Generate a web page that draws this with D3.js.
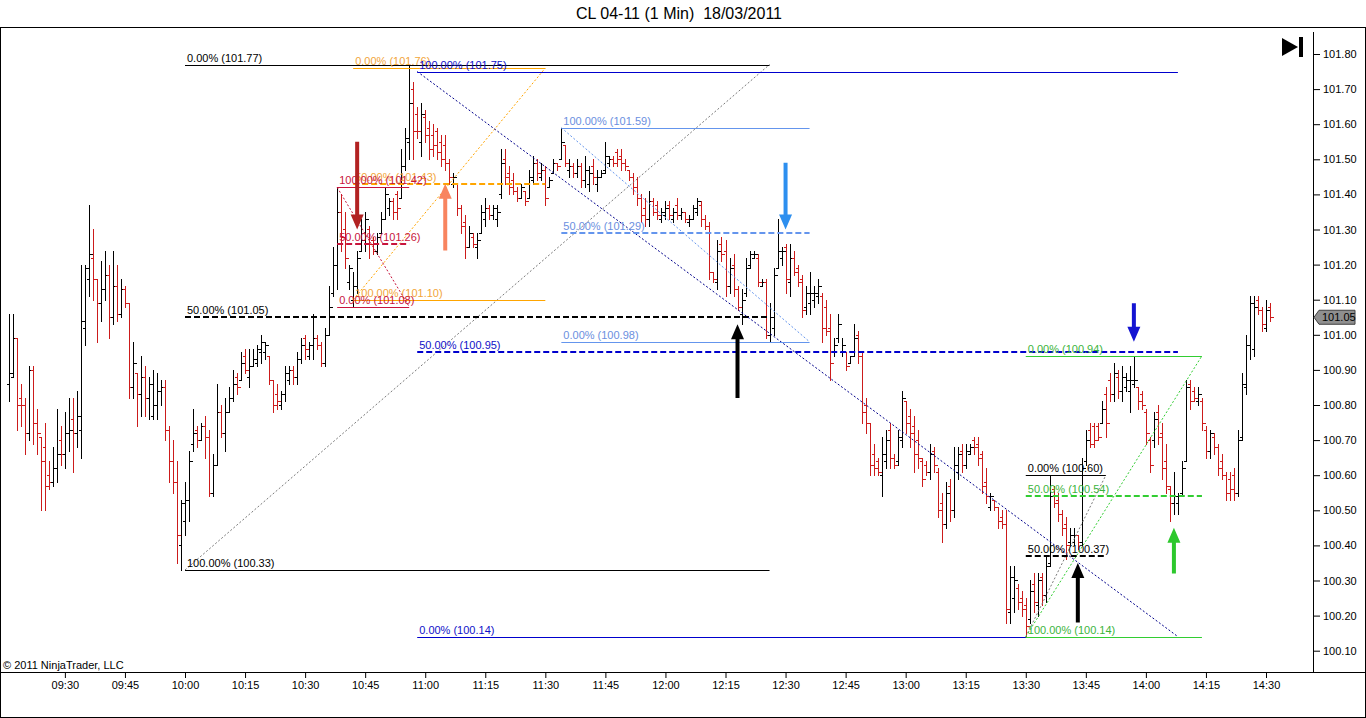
<!DOCTYPE html>
<html>
<head>
<meta charset="utf-8">
<script src="https://cdn.jsdelivr.net/npm/d3@7"></script>
<style>
  body { margin: 0; background: #fff; }
  svg { display: block; font-family: Arial, "Liberation Sans", sans-serif; }
</style>
</head>
<body>
<svg id="chart" width="1366" height="718"></svg>
<script>
const title = 'CL 04-11 (1 Min)  18/03/2011';
const copyright = '\u00a9 2011 NinjaTrader, LLC';

// one bar per minute from firstBarTime: [open, high, low, close]
const firstBarTime = '09:16';
const bars = [
  [100.86,101.06,100.81,100.89],[100.88,101.06,100.88,100.99],[100.99,100.99,100.73,100.80],[100.82,100.86,100.74,100.80],[100.80,100.82,100.66,100.72],[100.72,100.91,100.70,100.90],[100.90,100.91,100.69,100.75],[100.75,100.79,100.66,100.72],[100.71,100.71,100.50,100.64],[100.68,100.75,100.50,100.57],
  [100.60,100.64,100.56,100.58],[100.58,100.68,100.57,100.62],[100.62,100.79,100.58,100.66],[100.70,100.74,100.63,100.66],[100.66,100.78,100.62,100.72],[100.72,100.82,100.67,100.73],[100.76,100.82,100.61,100.72],[100.72,100.84,100.68,100.77],[100.73,101.20,100.65,101.04],[101.02,101.20,100.97,101.19],
  [101.16,101.37,101.11,101.23],[101.22,101.30,101.10,101.16],[101.16,101.16,100.98,101.09],[101.09,101.21,101.04,101.13],[101.13,101.24,101.10,101.17],[101.17,101.20,100.99,101.05],[101.05,101.24,101.03,101.14],[101.14,101.20,101.04,101.06],[101.06,101.16,101.05,101.13],[101.13,101.14,101.08,101.09],
  [101.09,101.09,100.82,100.85],[100.85,100.98,100.82,100.92],[100.89,100.89,100.74,100.83],[100.83,100.94,100.77,100.88],[100.88,100.91,100.77,100.82],[100.82,100.88,100.76,100.86],[100.77,100.90,100.76,100.80],[100.80,100.89,100.76,100.84],[100.84,100.87,100.80,100.85],[100.85,100.87,100.70,100.73],
  [100.73,100.74,100.58,100.64],[100.64,100.70,100.55,100.58],[100.58,100.64,100.35,100.43],[100.40,100.53,100.33,100.52],[100.47,100.58,100.43,100.53],[100.53,100.67,100.47,100.64],[100.69,100.79,100.67,100.72],[100.73,100.74,100.68,100.70],[100.70,100.75,100.70,100.74],[100.74,100.77,100.65,100.71],
  [100.71,100.73,100.54,100.55],[100.55,100.66,100.54,100.63],[100.63,100.86,100.63,100.78],[100.78,100.80,100.71,100.72],[100.72,100.82,100.67,100.78],[100.78,100.85,100.78,100.82],[100.82,100.90,100.81,100.86],[100.88,100.89,100.83,100.85],[100.87,100.95,100.87,100.92],[100.94,100.96,100.89,100.90],
  [100.88,100.96,100.85,100.91],[100.91,100.96,100.91,100.93],[100.92,100.97,100.91,100.96],[100.95,101.00,100.92,100.98],[100.95,100.98,100.93,100.97],[100.94,100.94,100.86,100.87],[100.87,100.87,100.78,100.80],[100.83,100.86,100.79,100.81],[100.80,100.84,100.79,100.83],[100.83,100.91,100.81,100.89],
  [100.87,100.91,100.86,100.90],[100.90,100.91,100.86,100.88],[100.88,100.95,100.86,100.93],[100.93,100.99,100.92,100.97],[100.99,101.00,100.93,100.96],[100.94,100.98,100.93,100.97],[100.97,101.06,100.93,100.99],[100.99,101.00,100.96,100.97],[100.97,100.98,100.91,100.92],[100.92,101.02,100.91,101.00],
  [101.00,101.14,101.00,101.08],[101.12,101.25,101.11,101.20],[101.20,101.42,101.13,101.35],[101.35,101.40,101.24,101.28],[101.30,101.35,101.19,101.22],[101.15,101.20,101.13,101.19],[101.10,101.18,101.08,101.14],[101.14,101.24,101.12,101.22],[101.24,101.33,101.24,101.27],[101.27,101.35,101.24,101.33],
  [101.30,101.31,101.22,101.26],[101.27,101.28,101.23,101.24],[101.24,101.29,101.23,101.28],[101.29,101.35,101.29,101.33],[101.33,101.42,101.33,101.40],[101.36,101.39,101.34,101.38],[101.38,101.39,101.33,101.35],[101.40,101.41,101.33,101.36],[101.39,101.53,101.39,101.48],[101.48,101.59,101.47,101.56],
  [101.55,101.77,101.50,101.66],[101.70,101.72,101.50,101.58],[101.63,101.65,101.56,101.58],[101.55,101.66,101.51,101.63],[101.62,101.64,101.55,101.57],[101.59,101.61,101.50,101.53],[101.57,101.60,101.51,101.54],[101.58,101.59,101.50,101.52],[101.55,101.57,101.48,101.50],[101.54,101.57,101.47,101.49],
  [101.49,101.50,101.43,101.45],[101.43,101.46,101.42,101.45],[101.43,101.43,101.34,101.36],[101.36,101.37,101.29,101.31],[101.32,101.34,101.22,101.25],[101.25,101.31,101.25,101.29],[101.28,101.29,101.25,101.26],[101.25,101.29,101.22,101.27],[101.29,101.37,101.29,101.35],[101.33,101.39,101.31,101.36],
  [101.36,101.37,101.33,101.34],[101.34,101.37,101.33,101.36],[101.33,101.37,101.31,101.35],[101.40,101.53,101.39,101.49],[101.50,101.53,101.43,101.45],[101.46,101.48,101.40,101.42],[101.44,101.46,101.40,101.41],[101.41,101.42,101.38,101.39],[101.39,101.43,101.39,101.42],[101.41,101.41,101.37,101.38],
  [101.39,101.47,101.39,101.45],[101.44,101.51,101.43,101.49],[101.49,101.50,101.44,101.46],[101.45,101.49,101.44,101.47],[101.47,101.48,101.37,101.39],[101.42,101.45,101.42,101.44],[101.46,101.50,101.46,101.49],[101.49,101.49,101.47,101.48],[101.50,101.59,101.50,101.55],[101.54,101.54,101.48,101.49],
  [101.47,101.50,101.45,101.48],[101.48,101.49,101.45,101.46],[101.46,101.50,101.45,101.48],[101.48,101.49,101.42,101.44],[101.44,101.51,101.42,101.47],[101.43,101.48,101.41,101.46],[101.48,101.50,101.43,101.45],[101.43,101.47,101.41,101.45],[101.45,101.47,101.45,101.46],[101.47,101.55,101.46,101.51],
  [101.49,101.51,101.48,101.50],[101.50,101.51,101.48,101.49],[101.52,101.53,101.48,101.50],[101.51,101.53,101.47,101.49],[101.49,101.50,101.47,101.48],[101.47,101.47,101.44,101.45],[101.45,101.46,101.40,101.42],[101.42,101.45,101.37,101.39],[101.39,101.40,101.32,101.34],[101.36,101.39,101.31,101.33],
  [101.33,101.41,101.31,101.38],[101.38,101.39,101.34,101.35],[101.37,101.38,101.33,101.34],[101.33,101.36,101.32,101.35],[101.34,101.38,101.33,101.36],[101.37,101.38,101.33,101.34],[101.33,101.36,101.32,101.35],[101.37,101.39,101.33,101.34],[101.34,101.36,101.33,101.35],[101.35,101.35,101.32,101.33],
  [101.32,101.34,101.31,101.33],[101.33,101.37,101.33,101.36],[101.35,101.39,101.34,101.38],[101.37,101.38,101.31,101.33],[101.33,101.34,101.30,101.31],[101.31,101.32,101.16,101.18],[101.18,101.18,101.15,101.16],[101.15,101.27,101.13,101.24],[101.26,101.28,101.21,101.23],[101.24,101.27,101.11,101.14],
  [101.14,101.22,101.12,101.19],[101.20,101.23,101.11,101.13],[101.13,101.14,101.07,101.08],[101.06,101.13,101.03,101.10],[101.12,101.22,101.11,101.19],[101.20,101.24,101.19,101.23],[101.22,101.24,101.22,101.23],[101.22,101.23,101.14,101.15],[101.14,101.16,101.14,101.15],[101.15,101.16,100.99,101.00],
  [101.00,101.09,100.98,101.05],[101.02,101.19,101.00,101.17],[101.19,101.33,101.19,101.24],[101.22,101.25,101.20,101.24],[101.25,101.26,101.12,101.16],[101.15,101.26,101.11,101.22],[101.22,101.24,101.17,101.18],[101.19,101.20,101.14,101.15],[101.16,101.17,101.05,101.07],[101.08,101.14,101.06,101.12],
  [101.09,101.18,101.06,101.12],[101.10,101.14,101.08,101.12],[101.11,101.16,101.09,101.14],[101.11,101.12,100.98,101.02],[101.08,101.10,101.00,101.01],[101.02,101.06,100.87,100.92],[100.95,100.99,100.94,100.97],[100.99,101.06,100.98,101.03],[100.95,100.99,100.94,100.97],[100.95,100.95,100.90,100.91],
  [100.92,100.94,100.92,100.94],[100.94,101.03,100.94,100.99],[101.00,101.01,100.92,100.94],[100.94,100.95,100.75,100.78],[100.80,100.82,100.72,100.75],[100.75,100.75,100.60,100.63],[100.66,100.69,100.60,100.62],[100.64,100.65,100.60,100.61],[100.60,100.71,100.54,100.66],[100.64,100.73,100.62,100.70],
  [100.73,100.75,100.62,100.65],[100.65,100.66,100.62,100.63],[100.64,100.73,100.63,100.71],[100.70,100.84,100.68,100.82],[100.81,100.81,100.72,100.75],[100.77,100.79,100.68,100.72],[100.74,100.77,100.61,100.66],[100.70,100.73,100.62,100.65],[100.64,100.65,100.57,100.59],[100.63,100.64,100.60,100.61],
  [100.61,100.69,100.59,100.66],[100.67,100.68,100.61,100.63],[100.61,100.62,100.48,100.50],[100.52,100.55,100.41,100.46],[100.46,100.58,100.45,100.55],[100.57,100.59,100.47,100.50],[100.50,100.68,100.48,100.63],[100.61,100.68,100.59,100.66],[100.67,100.69,100.61,100.63],[100.63,100.69,100.62,100.67],
  [100.66,100.69,100.66,100.68],[100.70,100.71,100.66,100.68],[100.69,100.71,100.63,100.65],[100.66,100.67,100.55,100.57],[100.58,100.62,100.52,100.54],[100.51,100.55,100.50,100.54],[100.53,100.53,100.50,100.51],[100.51,100.51,100.45,100.47],[100.48,100.50,100.45,100.46],[100.46,100.50,100.18,100.22],
  [100.21,100.34,100.18,100.31],[100.25,100.34,100.21,100.30],[100.28,100.29,100.22,100.24],[100.25,100.27,100.20,100.22],[100.23,100.25,100.14,100.17],[100.19,100.30,100.18,100.27],[100.29,100.32,100.21,100.24],[100.23,100.32,100.20,100.30],[100.31,100.32,100.23,100.26],[100.26,100.37,100.24,100.34],
  [100.35,100.60,100.34,100.54],[100.56,100.57,100.51,100.52],[100.53,100.55,100.47,100.49],[100.49,100.50,100.43,100.45],[100.46,100.48,100.36,100.40],[100.41,100.45,100.40,100.43],[100.41,100.45,100.40,100.43],[100.43,100.43,100.39,100.41],[100.41,100.65,100.40,100.62],[100.64,100.73,100.63,100.70],
  [100.73,100.75,100.68,100.69],[100.74,100.75,100.68,100.70],[100.74,100.75,100.70,100.71],[100.75,100.81,100.75,100.79],[100.83,100.85,100.71,100.75],[100.87,100.89,100.81,100.83],[100.83,100.92,100.81,100.89],[100.88,100.90,100.82,100.84],[100.84,100.91,100.81,100.88],[100.85,100.89,100.84,100.87],
  [100.84,100.91,100.78,100.87],[100.86,100.94,100.85,100.87],[100.85,100.85,100.79,100.81],[100.83,100.84,100.79,100.80],[100.78,100.79,100.69,100.72],[100.70,100.71,100.61,100.63],[100.70,100.78,100.68,100.76],[100.78,100.80,100.69,100.71],[100.72,100.75,100.59,100.62],[100.64,100.69,100.55,100.57],
  [100.56,100.57,100.47,100.52],[100.52,100.61,100.49,100.54],[100.52,100.55,100.49,100.54],[100.55,100.64,100.54,100.62],[100.64,100.87,100.64,100.85],[100.86,100.87,100.79,100.81],[100.84,100.85,100.81,100.82],[100.81,100.85,100.80,100.83],[100.81,100.82,100.73,100.75],[100.73,100.74,100.65,100.67],
  [100.67,100.73,100.65,100.72],[100.71,100.72,100.66,100.68],[100.68,100.69,100.60,100.62],[100.64,100.66,100.59,100.60],[100.60,100.61,100.53,100.55],[100.59,100.61,100.53,100.56],[100.60,100.62,100.53,100.55],[100.55,100.73,100.54,100.70],[100.71,100.89,100.70,100.86],[100.85,101.00,100.83,100.97],
  [100.97,101.11,100.93,101.09],[100.96,101.11,100.94,101.08],[101.10,101.11,101.06,101.07],[101.07,101.08,101.01,101.03],[101.02,101.10,101.01,101.07],[101.08,101.09,101.04,101.05]
];

const timeTicks = ['09:30','09:45','10:00','10:15','10:30','10:45','11:00','11:15','11:30','11:45','12:00','12:15','12:30','12:45','13:00','13:15','13:30','13:45','14:00','14:15','14:30'];
const priceTicks = [101.80,101.70,101.60,101.50,101.40,101.30,101.20,101.10,101.00,100.90,100.80,100.70,100.60,100.50,100.40,100.30,100.20,100.10];
const lastPrice = 101.05;

// Fibonacci retracements: anchors and the prices at 0%, 50%, 100%
const fibNames  = ['black', 'orange', 'crimson', 'blue', 'lightblue', 'smallblack', 'green'];
const fibStart  = ['10:00', '10:42', '10:38', '10:58', '11:34', '13:30', '13:30'];
const fibEnd    = ['12:26', '11:30', '10:56', '14:08', '12:36', '13:50', '14:14'];
const fibLevels = [
  [101.77, 101.05, 100.33],
  [101.76, 101.43, 101.10],
  [101.08, 101.26, 101.42],
  [100.14, 100.95, 101.75],
  [100.98, 101.29, 101.59],
  [100.60, 100.37, 100.14],
  [100.94, 100.54, 100.14]
];
const fibPercents = [0, 50, 100];

// hand drawn arrows: time, tail price, tip price
const arrowNames = ['firebrick', 'coral', 'dodger', 'black', 'blue', 'black', 'green'];
const arrowTimes = ['10:43', '11:05', '12:30', '12:18', '13:57', '13:43', '14:07'];
const arrowFrom  = [101.55, 101.24, 101.49, 100.82, 101.09, 100.18, 100.32];
const arrowTo    = [101.30, 101.43, 101.30, 101.03, 100.98, 100.35, 100.45];

// styles
const fibStyles = {
  black:      { line: '#000000', text: '#000000', diag: '#7a7a7a', hide: [] },
  orange:     { line: '#ffa500', text: '#f2a53a', diag: '#ffa500', hide: [] },
  crimson:    { line: '#c8143c', text: '#c8143c', diag: '#c8143c', hide: [] },
  blue:       { line: '#0000cd', text: '#1010c8', diag: '#00008b', hide: [] },
  lightblue:  { line: '#6495ed', text: '#6b8fe0', diag: '#6495ed', hide: [] },
  smallblack: { line: '#000000', text: '#000000', diag: '#7a7a7a', hide: [100] },
  green:      { line: '#32cd32', text: '#3cb43c', diag: '#32cd32', hide: [] }
};
const arrowColors = { firebrick: '#b22222', coral: '#f8845f', dodger: '#2d8fef', black: '#000000', blue: '#1414d2', green: '#2dc82d' };
const upColor = '#000000';
const downColor = '#cc1b1b';

const toMin = s => { const [h, m] = s.split(':').map(Number); return h * 60 + m; };

const W = 1366, H = 718;
const axisX = 1313, axisY = 672, frameTop = 27;

const svg = d3.select('#chart');

const x = d3.scaleLinear()
  .domain([toMin('10:00'), toMin('14:30')])
  .range([185, 1266]);

const y = d3.scaleLinear()
  .domain([100.10, 101.80])
  .range([650.7, 54]);

// frame
svg.append('rect')
  .attr('x', 0.5).attr('y', frameTop + 0.5)
  .attr('width', W - 1).attr('height', H - frameTop - 1)
  .attr('fill', '#fff').attr('stroke', '#000');

svg.append('text')
  .attr('x', 679).attr('y', 19)
  .attr('text-anchor', 'middle')
  .attr('font-size', 16)
  .attr('xml:space', 'preserve')
  .style('white-space', 'pre')
  .text(title);

// bars
const t0 = toMin(firstBarTime);
const barData = bars.map((b, i) => ({ t: t0 + i, o: b[0], h: b[1], l: b[2], c: b[3] }));
const crisp = v => Math.round(v) + 0.5;

svg.append('g')
  .attr('shape-rendering', 'crispEdges')
  .selectAll('path')
  .data(barData)
  .join('path')
  .attr('fill', 'none')
  .attr('stroke', d => d.c >= d.o ? upColor : downColor)
  .attr('d', d => {
    const bx = crisp(x(d.t));
    return `M${bx},${Math.round(y(d.h))}V${Math.round(y(d.l)) + 1}` +
      `M${bx - 3},${crisp(y(d.o))}H${bx}` +
      `M${bx},${crisp(y(d.c))}H${bx + 3}`;
  });

// fibonacci retracements
const fibs = fibNames.map((name, i) => ({
  style: fibStyles[name],
  t0: toMin(fibStart[i]),
  t1: toMin(fibEnd[i]),
  levels: fibPercents.map((p, j) => ({ pct: p, price: fibLevels[i][j] }))
}));

const fibG = svg.append('g');
fibs.forEach(f => {
  const g = fibG.append('g');
  const x0 = x(f.t0), x1 = x(f.t1);
  const p100 = f.levels.find(l => l.pct === 100).price;
  const p0 = f.levels.find(l => l.pct === 0).price;

  g.append('line')
    .attr('x1', x0).attr('y1', y(p100))
    .attr('x2', x1).attr('y2', y(p0))
    .attr('stroke', f.style.diag)
    .attr('stroke-width', 1)
    .attr('stroke-dasharray', '2,2');

  const shown = f.levels.filter(l => !f.style.hide.includes(l.pct));

  g.selectAll('line.level')
    .data(shown)
    .join('line')
    .attr('class', 'level')
    .attr('x1', x0).attr('x2', x1)
    .attr('y1', d => Math.round(y(d.price)) + (d.pct === 50 ? 0 : 0.5))
    .attr('y2', d => Math.round(y(d.price)) + (d.pct === 50 ? 0 : 0.5))
    .attr('stroke', f.style.line)
    .attr('stroke-width', d => d.pct === 50 ? 2 : 1)
    .attr('stroke-dasharray', d => d.pct === 50 ? '6,3' : null);

  g.selectAll('text')
    .data(shown)
    .join('text')
    .attr('x', x0 + 2)
    .attr('y', d => Math.round(y(d.price)) - 3)
    .attr('font-size', 11)
    .attr('fill', f.style.text)
    .text(d => `${d.pct.toFixed(2)}% (${d.price.toFixed(2)})`);
});

// arrows
const arrowPath = d => {
  const ax = x(d.t), ya = y(d.from), yb = y(d.to);
  const dir = yb > ya ? 1 : -1;
  const yh = yb - dir * 15;
  return `M${ax - 2},${ya}L${ax + 2},${ya}L${ax + 2},${yh}L${ax + 6.5},${yh}L${ax},${yb}L${ax - 6.5},${yh}L${ax - 2},${yh}Z`;
};

svg.append('g')
  .selectAll('path')
  .data(arrowNames.map((n, i) => ({ color: arrowColors[n], t: toMin(arrowTimes[i]), from: arrowFrom[i], to: arrowTo[i] })))
  .join('path')
  .attr('d', arrowPath)
  .attr('fill', d => d.color);

// axes
const xAxis = d3.axisBottom(x)
  .tickValues(timeTicks.map(toMin))
  .tickFormat((d, i) => timeTicks[i])
  .tickSize(6);

svg.append('g')
  .attr('transform', `translate(0,${axisY})`)
  .call(xAxis)
  .call(g => g.select('.domain').remove())
  .call(g => g.selectAll('line').attr('stroke', '#000'))
  .call(g => g.selectAll('text')
    .attr('font-size', 11)
    .attr('font-family', 'Arial, "Liberation Sans", sans-serif')
    .attr('fill', '#000'));

const yAxis = d3.axisRight(y)
  .tickValues(priceTicks)
  .tickFormat(d3.format('.2f'))
  .tickSize(7);

svg.append('g')
  .attr('transform', `translate(${axisX},0)`)
  .call(yAxis)
  .call(g => g.select('.domain').remove())
  .call(g => g.selectAll('line').attr('stroke', '#000'))
  .call(g => g.selectAll('text')
    .attr('font-size', 11)
    .attr('font-family', 'Arial, "Liberation Sans", sans-serif')
    .attr('fill', '#000'));

svg.append('line')
  .attr('x1', 0).attr('x2', W)
  .attr('y1', axisY + 0.5).attr('y2', axisY + 0.5)
  .attr('stroke', '#000');

svg.append('line')
  .attr('x1', axisX + 0.5).attr('x2', axisX + 0.5)
  .attr('y1', 32).attr('y2', axisY)
  .attr('stroke', '#000');

// last price marker
const ly = y(lastPrice);
svg.append('path')
  .attr('d', `M${axisX + 1},${ly}L${axisX + 6},${ly - 7}H${axisX + 42}V${ly + 7}H${axisX + 6}Z`)
  .attr('fill', '#8f8f8f')
  .attr('stroke', '#404040');

svg.append('text')
  .attr('x', axisX + 9).attr('y', ly + 4)
  .attr('font-size', 11)
  .text(d3.format('.2f')(lastPrice));

// scroll-to-end icon
svg.append('path')
  .attr('d', 'M1282,38L1298,47L1282,56Z')
  .attr('fill', '#000');
svg.append('rect')
  .attr('x', 1299).attr('y', 37)
  .attr('width', 4).attr('height', 20)
  .attr('fill', '#000');

svg.append('text')
  .attr('x', 3).attr('y', 669)
  .attr('font-size', 11)
  .text(copyright);
</script>
</body>
</html>
